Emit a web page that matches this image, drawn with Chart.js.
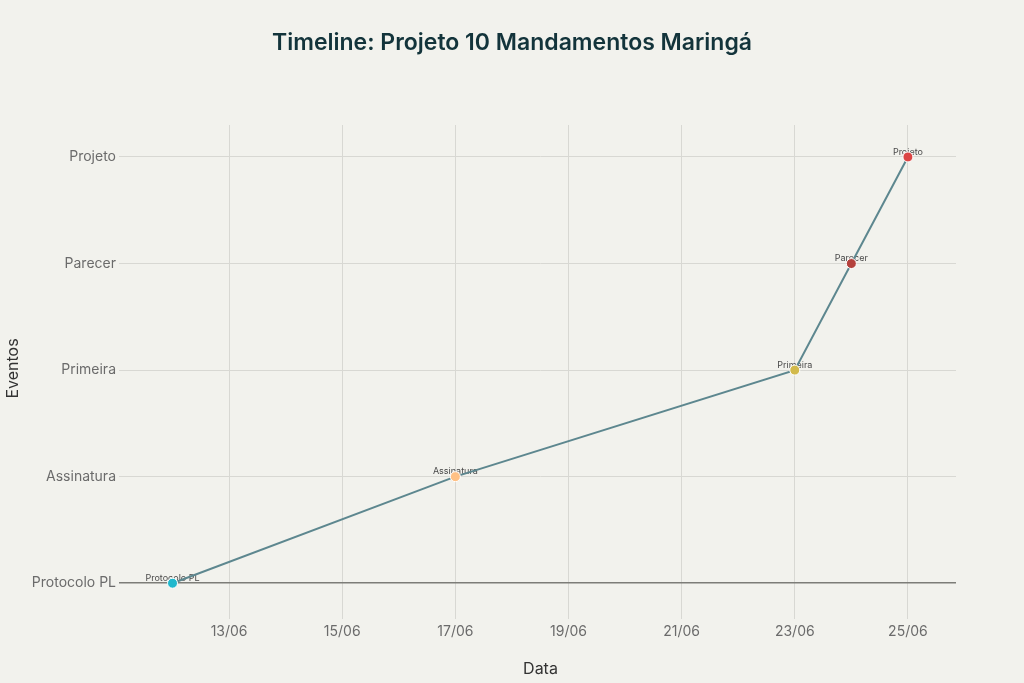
<!DOCTYPE html>
<html>
<head>
<meta charset="utf-8">
<script src="https://cdn.jsdelivr.net/npm/chart.js@4"></script>
<style>
  html, body { margin: 0; padding: 0; background: #f2f2ed; }
  #wrap { width: 1024px; height: 683px; }
</style>
</head>
<body>
<div id="wrap"><canvas id="timelineChart" width="1024" height="683"></canvas></div>
<script>
// timeline data
const chartTitle = "Timeline: Projeto 10 Mandamentos Maringá";
const events = ["Protocolo PL", "Assinatura", "Primeira", "Parecer", "Projeto"];
const eventDates = ["12/06", "17/06", "23/06", "24/06", "25/06"];
const pointColors = ["#1FB8CD", "#FFC185", "#D2BA4C", "#B4413C", "#DB4545"];
const xTickDays = [13, 15, 17, 19, 21, 23, 25];

const dayOf = (s) => parseInt(s.split("/")[0], 10);
const points = eventDates.map((d, i) => ({ x: dayOf(d), y: i }));

// labels drawn behind the line and markers
const pointLabels = {
  id: "pointLabels",
  beforeDatasetsDraw(chart) {
    const ctx = chart.ctx;
    const meta = chart.getDatasetMeta(0);
    ctx.save();
    ctx.font = "9px Inter";
    ctx.fillStyle = "#4a4a4a";
    ctx.textAlign = "center";
    ctx.textBaseline = "middle";
    meta.data.forEach((pt, i) => {
      ctx.fillText(events[i], pt.x, pt.y - 5);
    });
    ctx.restore();
  },
};

// background + title centred on the whole canvas
const background = {
  id: "background",
  beforeDraw(chart) {
    const ctx = chart.ctx;
    ctx.save();
    ctx.fillStyle = "#f2f2ed";
    ctx.fillRect(0, 0, chart.width, chart.height);
    ctx.font = "600 23px Inter";
    ctx.fillStyle = "#13343B";
    ctx.textAlign = "center";
    ctx.textBaseline = "middle";
    ctx.fillText(chartTitle, chart.width / 2, 43);
    ctx.restore();
  },
};

new Chart(document.getElementById("timelineChart"), {
  type: "line",
  data: {
    datasets: [
      {
        data: points,
        borderColor: "#5D878F",
        borderWidth: 2,
        pointBackgroundColor: pointColors,
        pointBorderColor: "#ffffff",
        pointBorderWidth: 1,
        pointRadius: 5,
        tension: 0,
      },
    ],
  },
  options: {
    responsive: false,
    animation: false,
    layout: { padding: { left: 0, right: 68, top: 125, bottom: 0 } },
    plugins: {
      legend: { display: false },
      tooltip: { enabled: false },
      title: { display: false },
    },
    scales: {
      x: {
        type: "linear",
        min: 11.16,
        max: 25.85,
        afterBuildTicks(scale) {
          scale.ticks = xTickDays.map((v) => ({ value: v }));
        },
        afterFit(scale) {
          scale.height = 71;
        },
        ticks: {
          color: "#6b6b6b",
          font: { family: "Inter", size: 14 },
          padding: 4,
          maxRotation: 0,
          callback: (v) => String(v).padStart(2, "0") + "/06",
        },
        grid: { color: "#d8d8d3", tickLength: 7, drawTicks: true },
        border: { display: false },
        title: {
          display: true,
          text: "Data",
          color: "#333333",
          font: { family: "Inter", size: 16 },
          padding: { top: 2 },
        },
      },
      y: {
        type: "linear",
        min: -0.27,
        max: 4.3,
        afterBuildTicks(scale) {
          scale.ticks = events.map((_, i) => ({ value: i }));
        },
        afterFit(scale) {
          scale.width = 125;
        },
        ticks: {
          color: "#6b6b6b",
          font: { family: "Inter", size: 14 },
          padding: 3,
          callback: (v) => events[v] || "",
        },
        grid: {
          color: (c) => (c.tick && c.tick.value === 0 ? "#7d7d78" : "#d8d8d3"),
          lineWidth: (c) => (c.tick && c.tick.value === 0 ? 1.5 : 1),
          tickLength: 6,
        },
        border: { display: false },
        title: {
          display: true,
          text: "Eventos",
          color: "#333333",
          font: { family: "Inter", size: 16 },
          padding: { bottom: 0 },
        },
      },
    },
  },
  plugins: [background, pointLabels],
});
</script>
</body>
</html>
